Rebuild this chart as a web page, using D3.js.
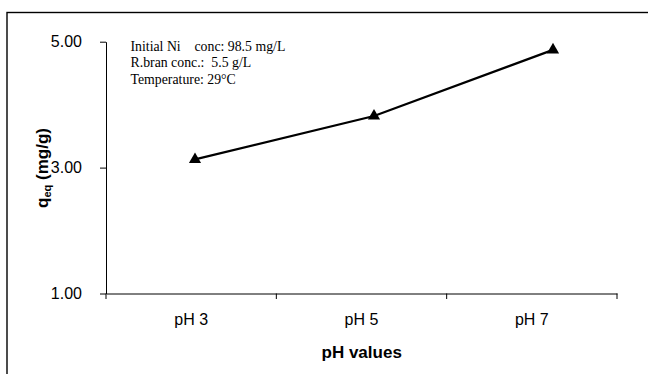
<!DOCTYPE html>
<html><head><meta charset="utf-8">
<script src="https://cdn.jsdelivr.net/npm/d3@7"></script>
<style>
html,body{margin:0;padding:0;background:#fff;}
svg{display:block;}
</style>
</head><body>
<svg id="chart" width="648" height="374"></svg>
<script>
const categories = ["pH 3", "pH 5", "pH 7"];
const qeq = [3.13, 3.82, 4.87];
const yTicks = [1, 3, 5];
const notes = ["Initial Ni    conc: 98.5 mg/L", "R.bran conc.:  5.5 g/L", "Temperature: 29°C"];

(function () {
const svg = d3.select("#chart");
const pLeft = 106, pRight = 617, pTop = 41.7, pBottom = 293.5;

// outer frame (right and bottom edges fall outside the picture)
svg.append("rect").attr("x", 7).attr("y", 12.5).attr("width", 800).attr("height", 600)
  .attr("fill", "none").attr("stroke", "#000").attr("stroke-width", 1.4);

const x = d3.scaleBand().domain(categories).range([pLeft, pRight]);
const xm = d3.scalePoint().domain(categories).range([195, 553]);
const y = d3.scaleLinear().domain([1, 5]).range([pBottom, pTop]);

// y axis
const ya = svg.append("g").attr("transform", `translate(${pLeft},0)`)
  .call(d3.axisLeft(y).tickValues(yTicks).tickFormat(d3.format(".2f")).tickSize(6).tickPadding(18).tickSizeOuter(0));
ya.select(".domain").attr("stroke", "#000").attr("stroke-width", 1);
ya.selectAll(".tick line").attr("stroke", "#000");
ya.selectAll("text").attr("font-family", "Liberation Sans, Arial, sans-serif").attr("font-size", 16).attr("fill", "#000");

// x axis
const xa = svg.append("g").attr("transform", `translate(0,${pBottom})`)
  .call(d3.axisBottom(x).tickSize(0).tickPadding(20).tickSizeOuter(0));
xa.select(".domain").attr("stroke", "#000").attr("stroke-width", 1);
xa.selectAll("text").attr("font-family", "Liberation Sans, Arial, sans-serif").attr("font-size", 16).attr("fill", "#000");
// category boundary ticks
const bounds = categories.map(c => x(c)).concat([x(categories[categories.length - 1]) + x.bandwidth()]);
svg.append("g").selectAll("line").data(bounds).join("line")
  .attr("x1", d => d).attr("x2", d => d).attr("y1", pBottom).attr("y2", pBottom + 5.5)
  .attr("stroke", "#000").attr("stroke-width", 1);

// axis titles
svg.append("text").attr("x", 361.7).attr("y", 357.5).attr("text-anchor", "middle")
  .attr("font-family", "Liberation Sans, Arial, sans-serif").attr("font-size", 17).attr("font-weight", "bold")
  .text("pH values");

const yt = svg.append("text").attr("transform", "translate(48,168) rotate(-90)").attr("text-anchor", "middle")
  .attr("font-family", "Liberation Sans, Arial, sans-serif").attr("font-size", 17).attr("font-weight", "bold");
yt.append("tspan").text("q");
yt.append("tspan").attr("font-size", 11).attr("dy", 3).text("eq");
yt.append("tspan").attr("dy", -3).text(" (mg/g)");

// notes
svg.append("g").selectAll("text").data(notes).join("text")
  .attr("x", 130.5).attr("y", (d, i) => 51 + i * 16.3)
  .attr("font-family", "Liberation Serif, Times New Roman, serif").attr("font-size", 13.8)
  .attr("fill", "#000").style("white-space", "pre").text(d => d);

// line
const pts = categories.map((c, i) => [xm(c), y(qeq[i])]);
svg.append("path").attr("d", d3.line()(pts)).attr("fill", "none").attr("stroke", "#000").attr("stroke-width", 2.2);

// triangle markers
const tri = d3.symbol().type(d3.symbolTriangle).size(64);
svg.append("g").selectAll("path").data(pts).join("path")
  .attr("d", tri).attr("transform", d => `translate(${d[0]},${d[1]})`).attr("fill", "#000");
})();
</script>
</body></html>
